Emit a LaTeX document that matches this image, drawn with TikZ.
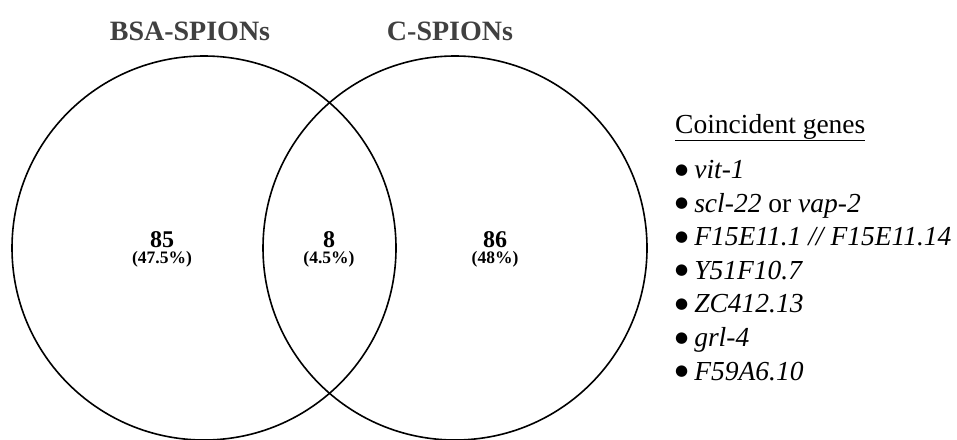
\documentclass[tikz,border=0pt]{standalone}
\usepackage{fontspec}
\setmainfont{Liberation Serif}
\newfontfamily\dotfont{DejaVu Sans}
\usepackage{tikz}

\definecolor{titlegray}{HTML}{404040}

% list bullet
\newcommand{\genedot}{\raisebox{4.5pt}{\dotfont\fontsize{15}{16}\selectfont ●}\hspace{6pt}}
% smaller second line of a region label
\newcommand{\sharefont}{\fontsize{17.5}{16}\selectfont}

\begin{document}
\begin{tikzpicture}[x=1pt,y=-1pt,
    ring/.style={draw, circle, line width=1.6pt, minimum size=384pt, inner sep=0pt},
    setname/.style={font=\fontsize{28}{30}\selectfont\bfseries, text=titlegray, inner sep=0pt},
    count/.style={font=\fontsize{24}{16}\selectfont\bfseries, align=center, inner sep=0pt},
    gene/.style={font=\fontsize{27.5}{30}\selectfont, anchor=base west, inner sep=0pt}]
    \useasboundingbox (0,0) rectangle (957,439);

    % the two sets
    \node[ring] (bsa) at (204,248) {};
    \node[ring] (csp) at (455,248) {};
    \node[setname] (bsaname) at (190,31) {BSA-SPIONs};
    \node[setname] (cspname) at (450,31) {C-SPIONs};

    % counts per region
    \node[count] (bsanum) at (162,249) {85\\\sharefont(47.5\%)};
    \node[count] (bothnum) at (329,249) {8\\\sharefont(4.5\%)};
    \node[count] (cspnum) at (495,249) {86\\\sharefont(48\%)};

    % list of shared genes
    \node[gene] (genes) at (675,133) {\underline{Coincident genes}};
    \foreach \g [count=\i from 0] in {%
        \textit{vit-1},
        \textit{scl-22} or \textit{vap-2},
        \textit{F15E11.1 // F15E11.14},
        \textit{Y51F10.7},
        \textit{ZC412.13},
        \textit{grl-4},
        \textit{F59A6.10}}
        \node[gene] (gene\i) at (675,{178.5+33.6*\i}) {\genedot\g};
\end{tikzpicture}
\end{document}
